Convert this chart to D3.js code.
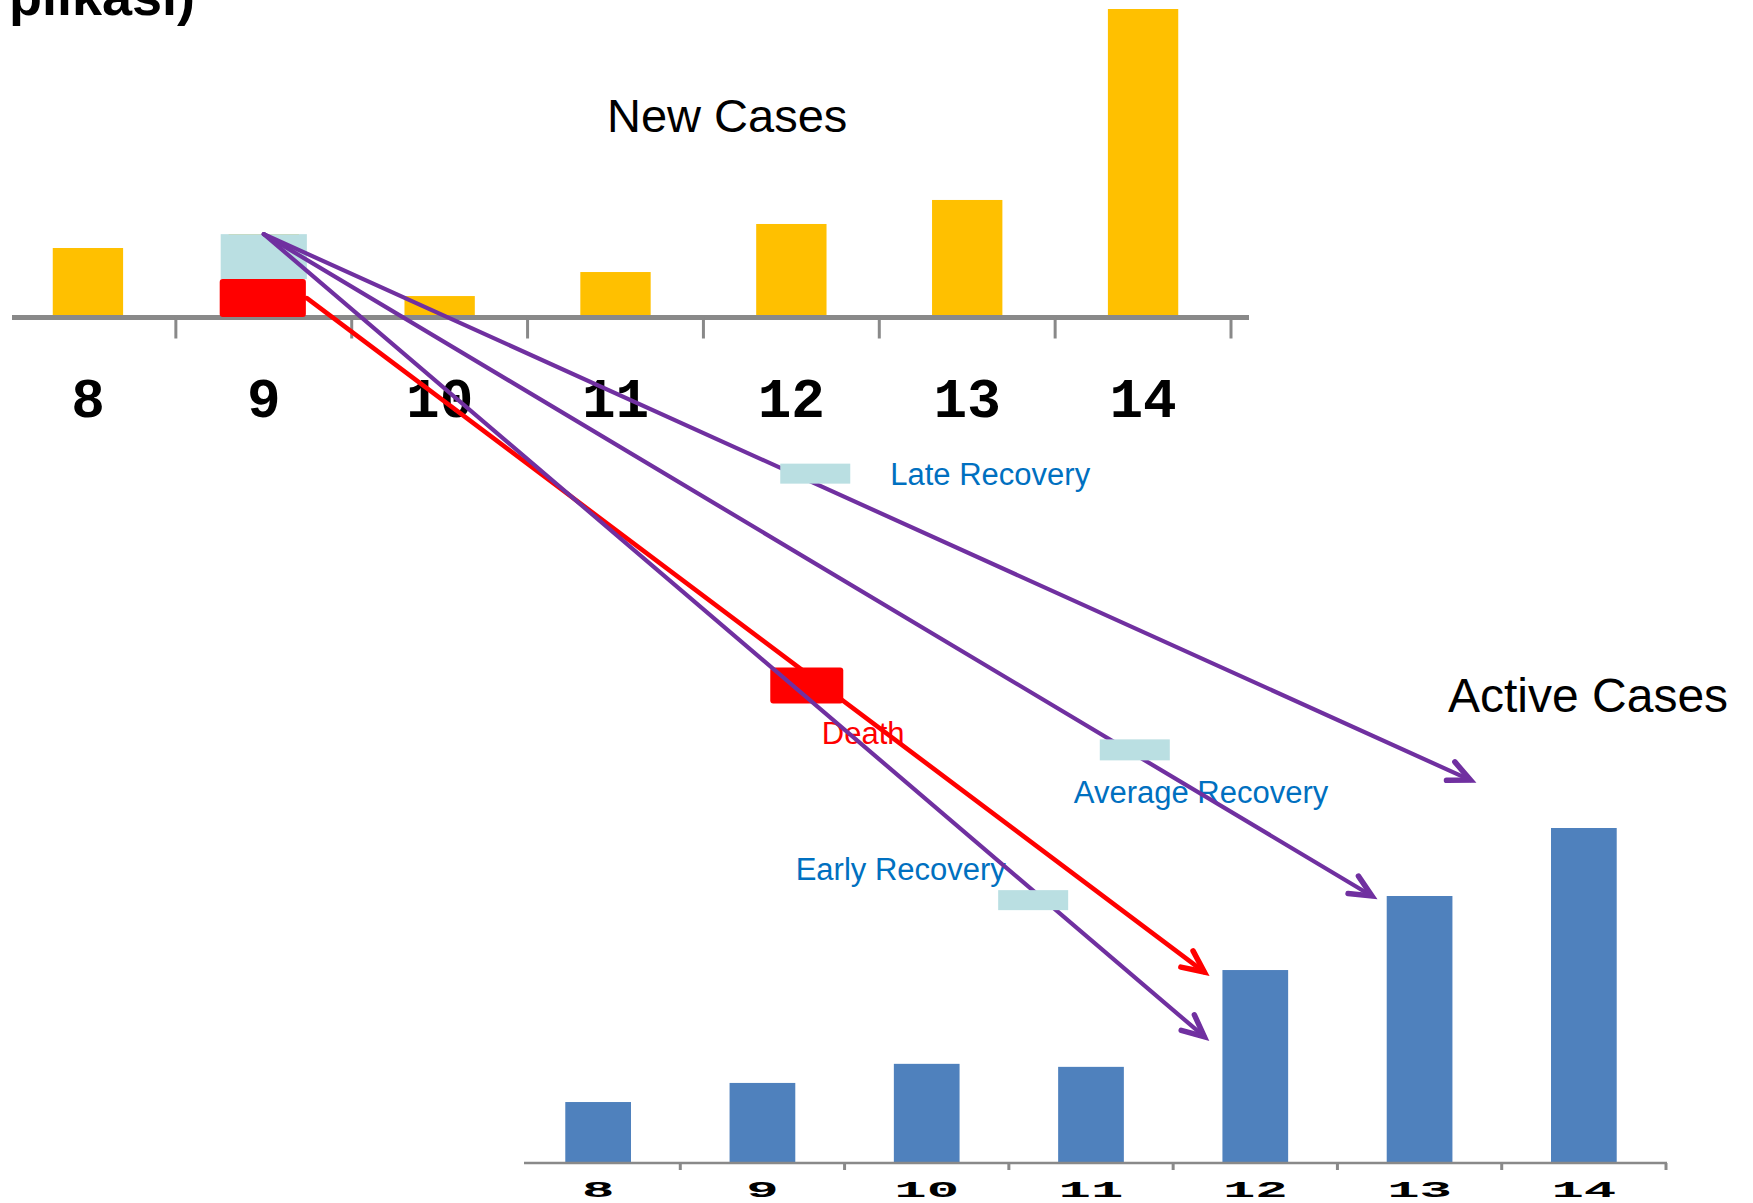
<!DOCTYPE html>
<html>
<head>
<meta charset="utf-8">
<script src="https://cdn.jsdelivr.net/npm/d3@7"></script>
<style>
  html, body { margin: 0; padding: 0; background: #fff; overflow: hidden; }
  svg { display: block; }
</style>
</head>
<body>
<svg id="chart" width="1753" height="1203"></svg>
<script>
// ---- data ---------------------------------------------------------------
const days = ["8", "9", "10", "11", "12", "13", "14"];
const newCases = [22.4, 26.9, 6.8, 14.6, 30.2, 38.0, 100];
// the day-9 cohort, split by outcome
const day9Death = 12.3;
const day9Recovered = 14.6;
const activeCases = [18.2, 23.9, 29.6, 28.7, 57.6, 79.7, 100];

// where each outcome of the day-9 cohort lands on the active-cases chart
const outcomeNames = ["Death", "Early Recovery", "Average Recovery", "Late Recovery"];
const outcomeDays = [11.69, 11.69, 12.71, 13.31];
const outcomeValues = [57.0, 37.7, 79.7, 114.3];

const topTitle = "New Cases";
const bottomTitle = "Active Cases";
const headerFragment = "plikasi)";

// ---- styling ------------------------------------------------------------
const C = {
  orange: "#FFC000",
  blue: "#4F81BD",
  pale: "#BADFE2",
  red: "#FF0000",
  purple: "#7030A0",
  textBlue: "#0070C0",
  axis: "#898989"
};
const SANS = "'Liberation Sans', Arial, sans-serif";
const MONO = "'Liberation Mono', 'Courier New', monospace";

const svg = d3.select("#chart");

// ---- scales -------------------------------------------------------------
const xTop = d3.scaleBand().domain(days).range([0, 1231]).paddingInner(0.6).paddingOuter(0.3);
const yTop = d3.scaleLinear().domain([0, 100]).range([317, 9]);
const xBot = d3.scaleBand().domain(days).range([516, 1666]).paddingInner(0.6).paddingOuter(0.3);
const yBot = d3.scaleLinear().domain([0, 100]).range([1163, 828]);

const cTop = d => xTop(d) + xTop.bandwidth() / 2;
const cBot = d => xBot(d) + xBot.bandwidth() / 2;
// fractional day position on the active-cases axis
const dayPos = d3.scaleLinear().domain([8, 14]).range([cBot("8"), cBot("14")]);

const gBars = svg.append("g");
const gAxes = svg.append("g");
const gOverlay = svg.append("g");
const gText = svg.append("g");
const gRed = svg.append("g");
const gPurple = svg.append("g");
const gMarkers = svg.append("g");
const gHeads = svg.append("g");

// ---- new cases bars -----------------------------------------------------
gBars.selectAll("rect.new")
  .data(days.map((d, i) => ({ d, v: newCases[i] })))
  .join("rect")
  .attr("class", "new")
  .attr("x", p => xTop(p.d))
  .attr("width", xTop.bandwidth())
  .attr("y", p => yTop(p.v))
  .attr("height", p => yTop(0) - yTop(p.v))
  .attr("fill", C.orange);

// ---- active cases bars --------------------------------------------------
gBars.selectAll("rect.active")
  .data(days.map((d, i) => ({ d, v: activeCases[i] })))
  .join("rect")
  .attr("class", "active")
  .attr("x", p => xBot(p.d))
  .attr("width", xBot.bandwidth())
  .attr("y", p => yBot(p.v))
  .attr("height", p => yBot(0) - yBot(p.v))
  .attr("fill", C.blue);

// ---- axes ---------------------------------------------------------------
function drawAxis(scale, y, lineFrom, lineTo, lineWidth, tickLen, labelY, labelSize, squash) {
  const g = gAxes.append("g");
  g.append("line")
    .attr("x1", lineFrom).attr("x2", lineTo)
    .attr("y1", y).attr("y2", y)
    .attr("stroke", C.axis).attr("stroke-width", lineWidth);
  // tick marks sit on the band boundaries
  g.selectAll("line.tick")
    .data(days)
    .join("line")
    .attr("class", "tick")
    .attr("x1", d => scale(d) + scale.bandwidth() / 2 + scale.step() / 2)
    .attr("x2", d => scale(d) + scale.bandwidth() / 2 + scale.step() / 2)
    .attr("y1", y).attr("y2", y + tickLen)
    .attr("stroke", C.axis).attr("stroke-width", 3);

  const ax = d3.axisBottom(scale).tickSize(0).tickPadding(0);
  const labels = gText.append("g").attr("transform", `translate(0,${labelY})`).call(ax);
  labels.select(".domain").remove();
  labels.selectAll(".tick text")
    .attr("y", 0).attr("dy", 0)
    .attr("transform", squash ? `scale(1,${squash})` : null)
    .attr("font-family", MONO)
    .attr("font-weight", "bold")
    .attr("font-size", labelSize)
    .attr("fill", "#000");
}
drawAxis(xTop, 317.5, 12, 1249, 5, 21, 417, 56, null);
drawAxis(xBot, 1163, 524, 1667, 2.5, 7, 1197, 54, 0.42);

// ---- day-9 cohort overlay ----------------------------------------------
const overlayW = xTop.step() * 0.49;
gOverlay.append("rect")
  .attr("x", cTop("9") - overlayW / 2)
  .attr("width", overlayW)
  .attr("y", yTop(day9Death + day9Recovered))
  .attr("height", yTop(day9Death) - yTop(day9Death + day9Recovered))
  .attr("fill", C.pale);
gOverlay.append("rect")
  .attr("x", cTop("9") - overlayW / 2 - 1)
  .attr("width", overlayW)
  .attr("y", yTop(day9Death))
  .attr("height", yTop(0) - yTop(day9Death))
  .attr("rx", 3)
  .attr("fill", C.red);

// ---- titles -------------------------------------------------------------
gText.append("text")
  .attr("x", 607).attr("y", 132)
  .attr("font-family", SANS).attr("font-size", 47).attr("fill", "#000")
  .text(topTitle);
gText.append("text")
  .attr("x", 1448).attr("y", 712)
  .attr("font-family", SANS).attr("font-size", 48).attr("fill", "#000")
  .text(bottomTitle);
gText.append("text")
  .attr("x", 195).attr("y", 15)
  .attr("text-anchor", "end")
  .attr("font-family", SANS).attr("font-weight", "bold").attr("font-size", 54).attr("fill", "#000")
  .text(headerFragment);

// ---- outcome flows ------------------------------------------------------
const purpleStart = [cTop("9"), yTop(day9Death + day9Recovered)];
const redStart = [cTop("9") + overlayW / 2, (yTop(day9Death) + yTop(0)) / 2];

// marker placement along each flow: fraction of the way, vertical nudge, size
const markerT = [0.557, 0.818, 0.786, 0.457];
const markerDy = [12, 9.5, -4.5, -10];
const markerW = [73, 70, 70, 70];
const markerH = [36, 20, 21, 20];
// label baseline placement relative to the marker box (left edge, bottom edge)
const labelDx = [51.5, -202.5, -26, 110];
const labelDy = [41, -30.5, 43, 1];

const flows = outcomeNames.map((name, i) => {
  const death = i === 0;
  const s = death ? redStart : purpleStart;
  const e = [dayPos(outcomeDays[i]), yBot(outcomeValues[i])];
  const t = markerT[i];
  const mx = s[0] + (e[0] - s[0]) * t;
  const my = s[1] + (e[1] - s[1]) * t + markerDy[i];
  return { name, death, s, e, mx, my, w: markerW[i], h: markerH[i], i };
});

// labels
gText.selectAll("text.flow")
  .data(flows)
  .join("text")
  .attr("class", "flow")
  .attr("x", f => f.mx - f.w / 2 + labelDx[f.i])
  .attr("y", f => f.my + f.h / 2 + labelDy[f.i])
  .attr("font-family", SANS)
  .attr("font-size", 31)
  .attr("fill", f => f.death ? C.red : C.textBlue)
  .text(f => f.name);

function flowLine(g, f, color, width) {
  g.append("line")
    .attr("x1", f.s[0]).attr("y1", f.s[1])
    .attr("x2", f.e[0]).attr("y2", f.e[1])
    .attr("stroke", color).attr("stroke-width", width)
    .attr("stroke-linecap", "round");
}
function marker(g, f, color) {
  g.append("rect")
    .attr("x", f.mx - f.w / 2).attr("y", f.my - f.h / 2)
    .attr("width", f.w).attr("height", f.h)
    .attr("rx", f.death ? 3 : 0)
    .attr("fill", color);
}
function head(g, f, color) {
  const ang = Math.atan2(f.e[1] - f.s[1], f.e[0] - f.s[0]);
  const len = 24, spread = 25 * Math.PI / 180;
  const b1 = [f.e[0] - len * Math.cos(ang - spread), f.e[1] - len * Math.sin(ang - spread)];
  const b2 = [f.e[0] - len * Math.cos(ang + spread), f.e[1] - len * Math.sin(ang + spread)];
  g.append("path")
    .attr("d", d3.line()([b1, f.e, b2]))
    .attr("fill", "none")
    .attr("stroke", color).attr("stroke-width", 5.5)
    .attr("stroke-linecap", "round").attr("stroke-linejoin", "miter");
}

flows.filter(f => f.death).forEach(f => {
  flowLine(gRed, f, C.red, 4.6);
  marker(gRed, f, C.red);
  head(gHeads, f, C.red);
});
flows.filter(f => !f.death).forEach(f => {
  flowLine(gPurple, f, C.purple, 4.2);
  marker(gMarkers, f, C.pale);
  head(gHeads, f, C.purple);
});
</script>
</body>
</html>
